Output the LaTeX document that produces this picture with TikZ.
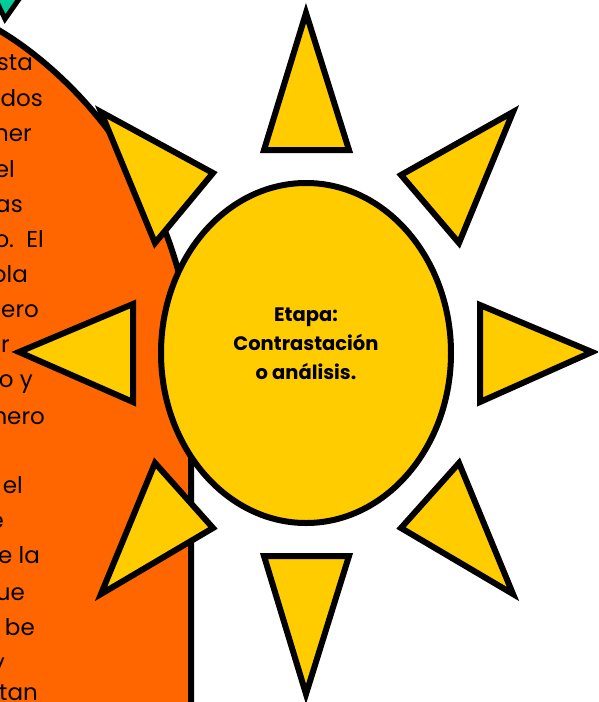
\documentclass[tikz,border=0pt]{standalone}
\usepackage{fontspec}
\setmainfont{Poppins}
\definecolor{sunYellow}{HTML}{FFCC00}
\definecolor{bodyOrange}{HTML}{FF6600}
\definecolor{tipTeal}{HTML}{00CC99}
\tikzset{ray/.style={fill=sunYellow, draw=black, line width=6pt},
	bodyText/.style={anchor=base east, inner sep=0pt, font=\fontsize{23}{23}\selectfont, text=black}}

\begin{document}
\begin{tikzpicture}[x=1pt, y=-1pt]
	\useasboundingbox (0,0) rectangle (598,702);
	\clip (0,0) rectangle (598,702);
	\coordinate (C) at (306,353);
	\def\Rx{145}
	\def\Ry{170}

	\fill[tipTeal, draw=black, line width=5pt]	(-8,-8) -- (5,19) -- (24,-8) -- cycle;
	\fill[bodyOrange, draw=black, line width=6pt]	(-5,28) .. controls (60,65) and (145,150) .. (178,270) .. controls (186,300) and (191,330) .. (191,370) -- (191,710) -- (-5,710) -- cycle;

	\foreach \name/\txt/\xx/\yy in {a/sta/33/70, b/dos/43/106, c/ner/32/141, d/el/15/177, e/as/23/212, f/o.\ \ El/44/247, g/ola/28/282, h/ero/39/317, i/r/10/352, j/o y/33/387, k/nero/45/424, l/el/23/493, m/e/4/528, n/e la/40/563, o/ue/25/600, p/be/35/635, q/y/5/670, r/tan/38/700}
		\node[bodyText] (txt\name) at (\xx,\yy) {\txt};

	\fill[sunYellow, draw=black, line width=6pt]	(C) ellipse [x radius=\Rx, y radius=\Ry];
	\node[align=center, font=\fontsize{19.5}{29}\selectfont\bfseries] (etapa) at (306,344) {Etapa:\\Contrastación\\o análisis.};

	\draw[ray]	(306,13) -- (349,150) -- (264,150) -- cycle;
	\draw[ray]	(592,352) -- (480,402) -- (480,305) -- cycle;
	\draw[ray]	(306,694) -- (264,556) -- (349,556) -- cycle;
	\draw[ray]	(19,352) -- (133,304) -- (133,402) -- cycle;
	\draw[ray]	(513,112) -- (459,243) -- (401,175) -- cycle;
	\draw[ray]	(513,594) -- (401,528) -- (459,463) -- cycle;
	\draw[ray]	(101,112) -- (213,173) -- (155,243) -- cycle;
	\draw[ray]	(101,594) -- (155,463) -- (213,528) -- cycle;
\end{tikzpicture}
\end{document}
